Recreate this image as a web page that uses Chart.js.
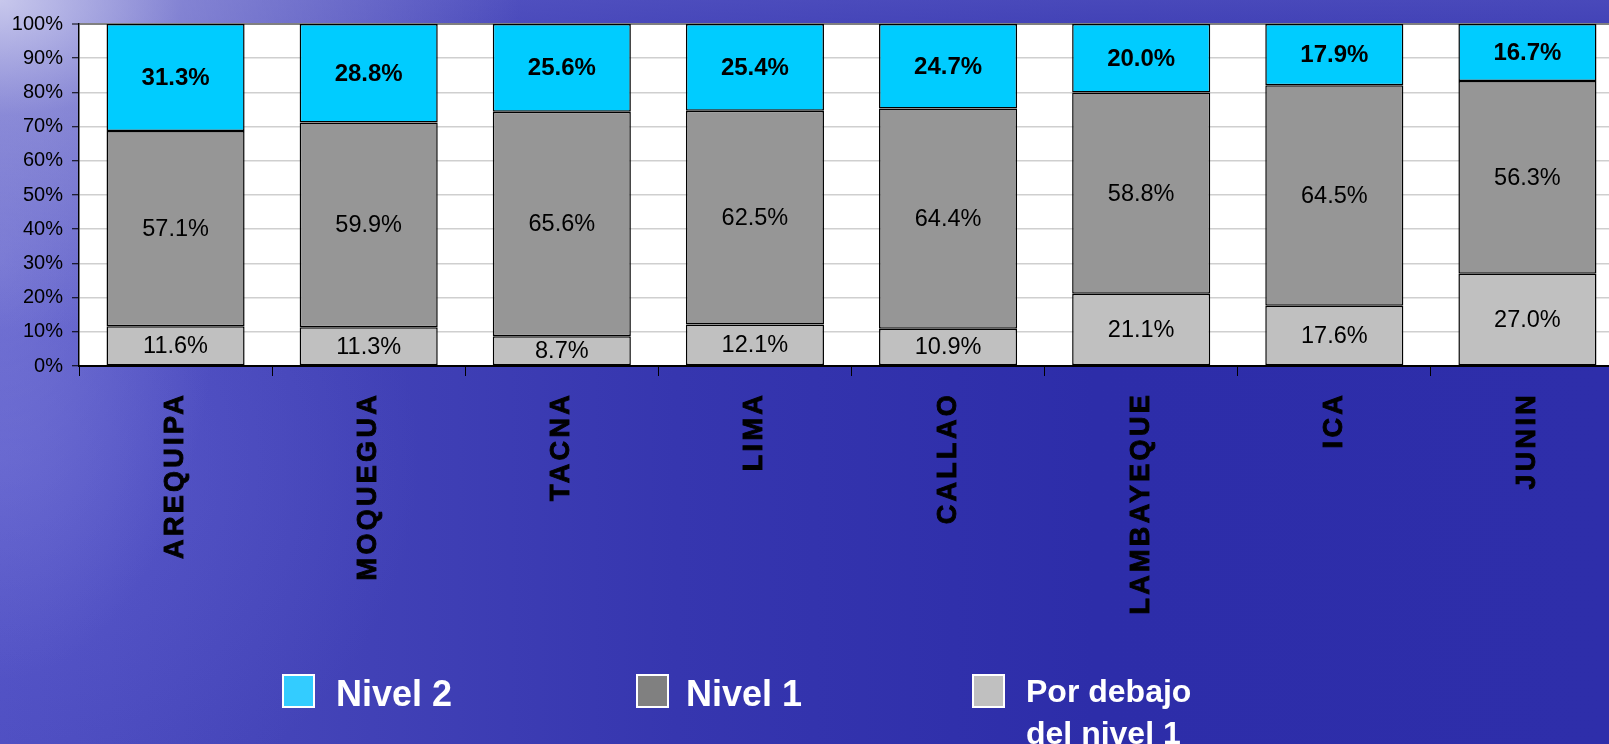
<!DOCTYPE html>
<html>
<head>
<meta charset="utf-8">
<script src="https://cdn.jsdelivr.net/npm/chart.js@4.4.1/dist/chart.umd.min.js"></script>
<style>
html,body{margin:0;padding:0;width:1609px;height:744px;overflow:hidden;}
body{
  position:relative;
  font-family:"Liberation Sans",Arial,sans-serif;
  background:
    radial-gradient(ellipse 520px 330px at 0 0, rgba(205,205,238,0.95) 0%, rgba(170,170,225,0.55) 35%, rgba(140,140,215,0) 100%),
    radial-gradient(ellipse 220px 420px at 0 35%, rgba(150,150,225,0.45) 0%, rgba(150,150,225,0) 100%),
    radial-gradient(ellipse 420px 380px at 0 62%, rgba(120,120,225,0.35) 0%, rgba(120,120,225,0) 100%),
    linear-gradient(to bottom, rgba(95,95,200,0.55) 0px, rgba(95,95,200,0) 110px),
    linear-gradient(to right, #4c4cc0 0%, #4444b8 18%, #3636af 42%, #2d2da9 68%, #2e2eaa 100%);
}
#c{position:absolute;left:0;top:0;}
.sw{position:absolute;top:674px;width:33px;height:34px;box-sizing:border-box;border:2px solid #fff;}
.tx{position:absolute;color:#fff;font-weight:bold;white-space:normal;}
#sw0{left:282px;} #tx0{left:336px;top:675.5px;font-size:36px;line-height:36px;}
#sw1{left:636px;} #tx1{left:686px;top:675.5px;font-size:36px;line-height:36px;}
#sw2{left:972px;} #tx2{left:1026px;top:669.6px;font-size:32px;line-height:42.7px;width:190px;}
</style>
</head>
<body>
<canvas id="c" width="1624" height="744" style="width:1624px;height:744px"></canvas>
<div id="legend"></div>
<script>
// ---- data ----
const categories = ['AREQUIPA','MOQUEGUA','TACNA','LIMA','CALLAO','LAMBAYEQUE','ICA','JUNIN'];
const nivel2 = [31.3, 28.8, 25.6, 25.4, 24.7, 20.0, 17.9, 16.7];
const nivel1 = [57.1, 59.9, 65.6, 62.5, 64.4, 58.8, 64.5, 56.3];
const debajo = [11.6, 11.3, 8.7, 12.1, 10.9, 21.1, 17.6, 27.0];
const seriesNames = ['Nivel 2', 'Nivel 1', 'Por debajo del nivel 1'];
const yTickValues = [0, 10, 20, 30, 40, 50, 60, 70, 80, 90, 100];

// ---- styles ----
const barColors = {n2:'#00CCFF', n1:'#969696', deb:'#C0C0C0'};
const legendColors = ['#33CCFF', '#808080', '#C0C0C0'];

function hasFont(f){
  const c = document.createElement('canvas').getContext('2d');
  c.font = 'bold 40px "' + f + '", monospace';
  const a = c.measureText('AREQUIPA MWil').width;
  c.font = 'bold 40px monospace';
  const b = c.measureText('AREQUIPA MWil').width;
  return Math.abs(a - b) > 0.5;
}
const narrow = hasFont('Liberation Sans Narrow');
const xFontFamily = narrow ? '"Liberation Sans Narrow"' : '"Liberation Sans"';
const xFontSize = narrow ? 32 : 27;
const xLetterSpacing = narrow ? 3.5 : 3.3;

const totals = categories.map((_, i) => debajo[i] + nivel1[i] + nivel2[i]);
const pct = arr => arr.map((v, i) => v / totals[i] * 100);

const plotBg = {
  id: 'plotBg',
  beforeDraw(chart){
    const {ctx, chartArea:a} = chart;
    ctx.save();
    ctx.fillStyle = '#ffffff';
    ctx.fillRect(a.left, a.top, a.right - a.left, a.bottom - a.top);
    ctx.restore();
    const s = chart.scales.x;
    if (!s._lsWrapped) {
      const orig = s.drawLabels.bind(s);
      s.drawLabels = function(area){
        const c = this.ctx;
        c.save();
        c.letterSpacing = xLetterSpacing + 'px';
        orig(area);
        c.restore();
      };
      s._lsWrapped = true;
    }
  }
};

const barLabels = {
  id: 'barLabels',
  afterDatasetsDraw(chart){
    const ctx = chart.ctx;
    chart.data.datasets.forEach((ds, di) => {
      const meta = chart.getDatasetMeta(di);
      meta.data.forEach((el, i) => {
        const p = el.getProps(['x','y','base'], true);
        ctx.save();
        ctx.font = (ds.labelBold ? 'bold 24px ' : '23.5px ') + '"Liberation Sans", Arial, sans-serif';
        ctx.fillStyle = '#000';
        ctx.textAlign = 'center';
        ctx.textBaseline = 'middle';
        ctx.fillText(ds.rawValues[i].toFixed(1) + '%', p.x, (p.y + p.base) / 2 + 1);
        ctx.restore();
      });
    });
  }
};

const common = {borderColor:'#000', borderWidth:1.5, borderSkipped:false, categoryPercentage:1.0, barPercentage:0.715};

const chart = new Chart(document.getElementById('c'), {
  type: 'bar',
  data: {
    labels: categories,
    datasets: [
      Object.assign({label: seriesNames[2], data: pct(debajo), rawValues: debajo, backgroundColor: barColors.deb, labelBold:false}, common),
      Object.assign({label: seriesNames[1], data: pct(nivel1), rawValues: nivel1, backgroundColor: barColors.n1, labelBold:false}, common),
      Object.assign({label: seriesNames[0], data: pct(nivel2), rawValues: nivel2, backgroundColor: barColors.n2, labelBold:true}, common)
    ]
  },
  options: {
    responsive: false,
    animation: false,
    layout: {padding: {top: 24, left: 0, right: 0, bottom: 0}},
    plugins: {legend: {display: false}, tooltip: {enabled: false}},
    scales: {
      x: {
        stacked: true,
        offset: true,
        grid: {display: true, offset: true, drawOnChartArea: false, drawTicks: true, tickLength: 10, tickColor: '#000', tickWidth: 1},
        border: {display: true, color: '#000', width: 2},
        ticks: {autoSkip: false, minRotation: 90, maxRotation: 90, padding: 16, color: '#000',
                textStrokeColor: '#000', textStrokeWidth: 0.9,
                font: {family: xFontFamily, size: xFontSize, weight: 'bold'}},
        afterFit(s){ s.height = 378; }
      },
      y: {
        stacked: true,
        min: 0, max: 100,
        afterBuildTicks(s){ s.ticks = yTickValues.map(v => ({value: v})); },
        ticks: {callback: v => v + '%', color: '#000', padding: 9,
                font: {family: '"Liberation Sans", Arial, sans-serif', size: 20}},
        grid: {color: c => (c.tick && c.tick.value === 100) ? '#808080' : '#cfcfcf',
               lineWidth: c => (c.tick && c.tick.value === 100) ? 2 : 1.5,
               tickLength: 7, tickColor: '#000', tickWidth: 1},
        border: {display: true, color: '#000', width: 1.5},
        afterFit(s){ s.width = 79; }
      }
    }
  },
  plugins: [plotBg, barLabels]
});

// ---- HTML legend (order as in the reference: Nivel 2, Nivel 1, Por debajo) ----
const lg = document.getElementById('legend');
seriesNames.forEach((name, i) => {
  const sw = document.createElement('div');
  sw.className = 'sw'; sw.id = 'sw' + i; sw.style.background = legendColors[i];
  const tx = document.createElement('div');
  tx.className = 'tx'; tx.id = 'tx' + i; tx.textContent = name;
  lg.appendChild(sw); lg.appendChild(tx);
});
</script>
</body>
</html>
